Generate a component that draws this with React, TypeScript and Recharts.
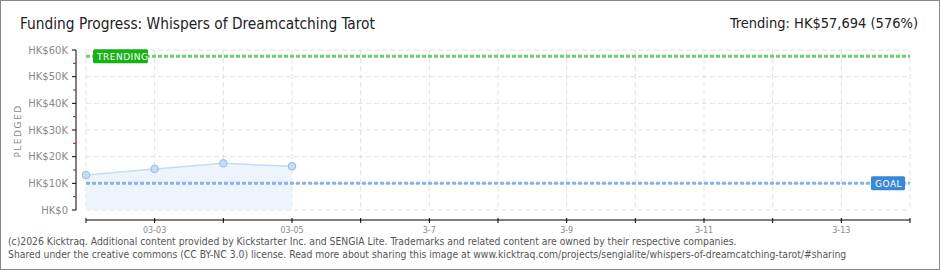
import { Area, CartesianGrid, ComposedChart, ReferenceLine, XAxis, YAxis } from 'recharts'

// one entry per day shown on the x axis, 03-02 .. 03-14
const dayTicks = [0, 1, 2, 3, 4, 5, 6, 7, 8, 9, 10, 11, 12]
const dayLabels = ['', '03-03', '', '03-05', '', '3-7', '', '3-9', '', '3-11', '', '3-13', '']

const pledgedDays = [0, 1, 2, 3]
const pledgedValues = [13100, 15400, 17500, 16400]

const yTicks = [0, 5000, 10000, 15000, 20000, 25000, 30000, 35000, 40000, 45000, 50000, 55000, 60000]
const yGrid = [0, 10000, 20000, 30000, 40000, 50000, 60000]

const GOAL = 10000
const TRENDING = 57694

const data = pledgedDays.map((day, i) => ({ day, pledged: pledgedValues[i] }))

const axisFont = '"DejaVu Sans", sans-serif'
const headFont = '"DejaVu Sans Condensed", "DejaVu Sans", sans-serif'

function formatHk(value: number) {
  return value === 0 ? 'HK$0' : `HK$${value / 1000}K`
}

function YTick({ x, y, payload }: any) {
  const value = payload.value as number
  if (value % 10000 !== 0) {
    return <line x1={x - 13} x2={x - 10} y1={y} y2={y} stroke="#e00000" strokeWidth={1} />
  }
  return (
    <g>
      <line x1={x - 14} x2={x - 10} y1={y} y2={y} stroke="#000" strokeWidth={1} />
      <text
        x={x - 18}
        y={y}
        dy={3.5}
        textAnchor="end"
        fill="#8a8a8a"
        fontFamily={axisFont}
        fontSize={10}
      >
        {formatHk(value)}
      </text>
    </g>
  )
}

function XTick({ x, y, payload }: any) {
  const label = dayLabels[payload.value] ?? ''
  return (
    <g>
      <line x1={x} x2={x} y1={y + 8} y2={y + 13} stroke="#000" strokeWidth={1} />
      {label ? (
        <text
          x={x}
          y={y + 23}
          textAnchor="middle"
          fill="#8a8a8a"
          fontFamily={axisFont}
          fontSize={8}
        >
          {label}
        </text>
      ) : null}
    </g>
  )
}

function Tag({ viewBox, text, color, width, align }: any) {
  const left = align === 'left' ? viewBox.x + 7 : viewBox.x + viewBox.width - width - 5
  const cy = viewBox.y
  return (
    <g>
      <rect x={left} y={cy - 7} width={width} height={14} rx={1.5} fill={color} />
      <text
        x={left + 4}
        y={cy + 3.5}
        fill="#fff"
        fontFamily={axisFont}
        fontSize={9}
        letterSpacing={0.5}
      >
        {text}
      </text>
    </g>
  )
}

export default function App() {
  return (
    <div
      style={{
        position: 'absolute',
        left: 0,
        top: 0,
        width: 940,
        height: 270,
        boxSizing: 'border-box',
        border: '1px solid #888',
        background: '#fff',
        overflow: 'hidden',
      }}
    >
      <div
        style={{
          position: 'absolute',
          left: 19,
          top: 14,
          fontFamily: headFont,
          fontSize: 15.3,
          color: '#222',
          whiteSpace: 'nowrap',
        }}
      >
        Funding Progress: Whispers of Dreamcatching Tarot
      </div>
      <div
        style={{
          position: 'absolute',
          right: 21,
          top: 14,
          fontFamily: headFont,
          fontSize: 14.5,
          color: '#222',
          whiteSpace: 'nowrap',
        }}
      >
        Trending: HK$57,694 (576%)
      </div>
      <div
        style={{
          position: 'absolute',
          left: 7,
          top: 78,
          width: 20,
          height: 104,
          display: 'flex',
          alignItems: 'center',
          justifyContent: 'center',
        }}
      >
        <span
          style={{
            transform: 'rotate(-90deg)',
            fontFamily: axisFont,
            fontSize: 9,
            letterSpacing: 1.5,
            color: '#8a8a8a',
            whiteSpace: 'nowrap',
          }}
        >
          PLEDGED
        </span>
      </div>

      <div style={{ position: 'absolute', left: -1, top: -1 }}>
        <ComposedChart width={940} height={270} data={data} margin={{ top: 50, right: 30, bottom: 30, left: 0 }}>
          <CartesianGrid
            stroke="#e2e2e2"
            strokeDasharray="5 3"
            horizontalValues={yGrid}
            verticalValues={dayTicks}
          />
          <XAxis
            dataKey="day"
            type="number"
            domain={[0, 12]}
            ticks={dayTicks}
            interval={0}
            height={30}
            tickSize={0}
            tickMargin={0}
            tickLine={false}
            axisLine={{ stroke: '#000', transform: 'translate(0 10)' } as any}
            tick={<XTick />}
          />
          <YAxis
            type="number"
            domain={[0, 60000]}
            ticks={yTicks}
            interval={0}
            width={86}
            tickSize={0}
            tickMargin={0}
            tickLine={false}
            axisLine={{ stroke: '#000', transform: 'translate(-10 0)' } as any}
            tick={<YTick />}
          />
          <Area
            dataKey="pledged"
            type="linear"
            stroke="#c4dcf4"
            strokeWidth={1.5}
            fill="#eef4fc"
            fillOpacity={1}
            dot={{ r: 3.8, fill: '#c4dcf6', stroke: '#98b8e0', strokeWidth: 1 }}
            activeDot={false}
            isAnimationActive={false}
          />
          <ReferenceLine
            y={GOAL}
            stroke="#86b4e8"
            strokeWidth={3}
            strokeDasharray="4 2"
            label={(props: any) => <Tag {...props} text="GOAL" color="#3a88d8" width={34} align="right" />}
          />
          <ReferenceLine
            y={TRENDING}
            stroke="#6cce6c"
            strokeWidth={3}
            strokeDasharray="4 2"
            label={(props: any) => <Tag {...props} text="TRENDING" color="#16b216" width={55} align="left" />}
          />
        </ComposedChart>
      </div>

      <div
        style={{
          position: 'absolute',
          left: 7,
          top: 234,
          fontFamily: headFont,
          fontSize: 10.3,
          lineHeight: '12.5px',
          color: '#555',
          whiteSpace: 'nowrap',
        }}
      >
        <div>
          (c)2026 Kicktraq. Additional content provided by Kickstarter Inc. and SENGIA Lite. Trademarks and related content are owned by their respective companies.
        </div>
        <div>
          Shared under the creative commons (CC BY-NC 3.0) license. Read more about sharing this image at www.kicktraq.com/projects/sengialite/whispers-of-dreamcatching-tarot/#sharing
        </div>
      </div>
    </div>
  )
}
